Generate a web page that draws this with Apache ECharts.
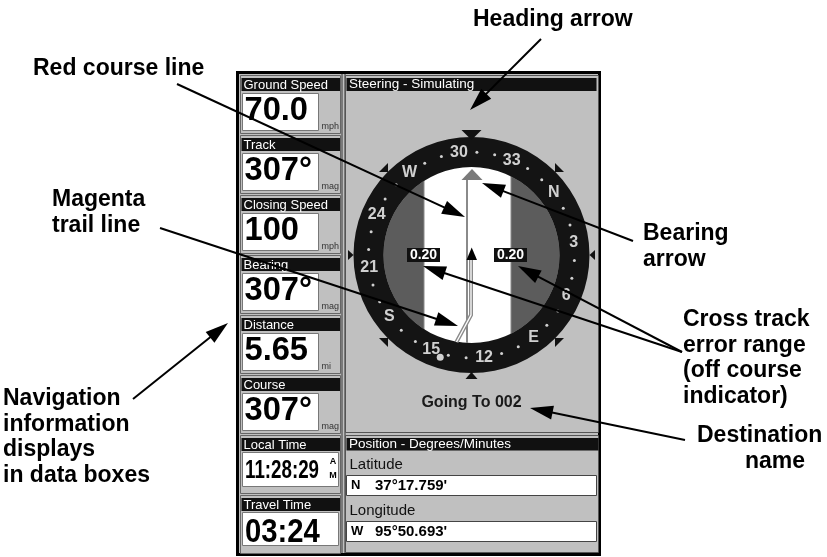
<!DOCTYPE html>
<html><head><meta charset="utf-8">
<script src="https://cdn.jsdelivr.net/npm/echarts@6/dist/echarts.min.js"></script>
<style>html,body{margin:0;padding:0;background:#fff}#c{width:827px;height:557px}</style>
</head><body><div id="c"></div>
<script>
// ---------- data ----------
const heading = 307;
const ringLabels = ['N','3','6','E','12','15','S','21','24','W','30','33'];
const ringLabelBearings = [0,30,60,90,120,150,180,210,240,270,300,330];
const ringDotBearings = [10,20,40,50,70,80,100,110,130,140,160,170,190,200,220,230,250,260,280,290,310,320,340,350];
const waypointBearing = [144];
const xteLabels = ['0.20','0.20'];
const boxTitles = ['Ground Speed','Track','Closing Speed','Bearing','Distance','Course','Local Time','Travel Time'];
const boxValues = ['70.0','307°','100','307°','5.65','307°','11:28:29','03:24'];
const boxUnits = ['mph','mag','mph','mag','mi','mag','AM',''];
const steeringTitle = 'Steering - Simulating';
const destinationText = 'Going To 002';
const positionTitle = 'Position - Degrees/Minutes';
const posLabels = ['Latitude','Longitude'];
const posHemis = ['N','W'];
const posValues = ["37°17.759'","95°50.693'"];
const noteTexts = [
  ['Heading arrow'],
  ['Red course line'],
  ['Magenta','trail line'],
  ['Bearing','arrow'],
  ['Cross track','error range','(off course','indicator)'],
  ['Destination','name'],
  ['Navigation','information','displays','in data boxes']
];

// ---------- layout ----------
const FONT = '"Liberation Sans", Arial, Helvetica, sans-serif';
const CX = 471.5, CY = 255, R_OUT = 118, R_IN = 88, R_LAB = 103;
const G = [];
const NONE = 'rgba(0,0,0,0)';
function rect(x,y,w,h,fill,stroke,lw,z){G.push({type:'rect',silent:true,z:z||0,shape:{x:x,y:y,width:w,height:h},style:{fill:fill||NONE,stroke:stroke||NONE,lineWidth:lw||0}});}
function txt(x,y,t,font,fill,align,z,sx){G.push({type:'text',silent:true,z:z||1,x:x,y:y,scaleX:sx||1,style:{text:t,x:0,y:0,font:font,fill:fill,textAlign:align||'left',textVerticalAlign:'middle'}});}
function poly(pts,fill,z){G.push({type:'polygon',silent:true,z:z||3,shape:{points:pts},style:{fill:fill}});}
function pline(pts,stroke,lw,z){G.push({type:'polyline',silent:true,z:z||3,shape:{points:pts},style:{stroke:stroke,lineWidth:lw,fill:NONE}});}
function arrow(x1,y1,x2,y2){
  const head=23, w=14;
  const dx=x2-x1, dy=y2-y1, L=Math.hypot(dx,dy), ux=dx/L, uy=dy/L;
  const bx=x2-ux*head, by=y2-uy*head;
  G.push({type:'line',silent:true,z:10,shape:{x1:x1,y1:y1,x2:bx+ux*3,y2:by+uy*3},style:{stroke:'#000',lineWidth:2}});
  poly([[x2,y2],[bx-uy*w/2,by+ux*w/2],[bx+uy*w/2,by-ux*w/2]],'#000',10);
}

// device frame
rect(237.5,72.5,362,482,'#c0c0c0','#000',3,0);
G.push({type:'line',silent:true,z:0,shape:{x1:342,y1:74,x2:342,y2:553},style:{stroke:'#333',lineWidth:1}});
G.push({type:'line',silent:true,z:0,shape:{x1:345,y1:74,x2:345,y2:553},style:{stroke:'#333',lineWidth:1}});

// left data boxes
boxTitles.forEach((t,i)=>{
  const h = 78 + 60*i;
  rect(240.5,h-2.5,100,58,NONE,'#666',1,0);
  rect(241.5,h,98.5,13,'#111',null,0,0);
  txt(243.5,h+7,t,'13px '+FONT,'#fff','left',1);
  if(i<6){
    rect(242.5,h+15.5,76,37,'#fff','#777',1,0);
    txt(244.5,h+32.5,boxValues[i],'bold 34px '+FONT,'#000','left',1,0.96);
    txt(321.5,h+49,boxUnits[i],'9px '+FONT,'#333','left',1);
  } else if(i===6){
    rect(242.5,h+14.5,96,34,'#fff','#777',1,0);
    txt(245,h+33,boxValues[i],'bold 25px '+FONT,'#000','left',1,0.75);
    txt(333,h+24,boxUnits[i][0],'bold 9px '+FONT,'#000','center',1);
    txt(333,h+38,boxUnits[i][1],'bold 9px '+FONT,'#000','center',1);
  } else {
    rect(242.5,h+14.5,96,33,'#fff','#777',1,0);
    txt(245,h+34.5,boxValues[i],'bold 34px '+FONT,'#000','left',1,0.86);
  }
});

// steering panel
rect(345.5,75.5,253,357,NONE,'#555',1,0);
rect(346.5,78,250,13,'#111',null,0,0);
txt(349,84.5,steeringTitle,'13.5px '+FONT,'#fff','left',1);

// compass
G.push({type:'circle',silent:true,z:1,shape:{cx:CX,cy:CY,r:R_IN},style:{fill:'#5c5c5c'}});
rect(424,CY-95,87,190,'#fff','#8a8a8a',1,1);
G.push({type:'ring',silent:true,z:2,shape:{cx:CX,cy:CY,r:R_OUT,r0:R_IN},style:{fill:'#141414'}});
// outer markers
poly([[461.5,130],[481.5,130],[471.5,140]],'#111',3);
poly([[465.5,379],[477.5,379],[471.5,372]],'#111',3);
poly([[348,250],[348,260],[353.5,255]],'#111',3);
poly([[595,250],[595,260],[589.5,255]],'#111',3);
poly([[388,163],[388,172],[379,172]],'#111',3);
poly([[555,163],[555,172],[564,172]],'#111',3);
poly([[388,338],[388,347],[379,338]],'#111',3);
poly([[555,338],[555,347],[564,338]],'#111',3);
// course line, bearing marker, trail, boat
pline([[467,180],[467,343]],'#8a8a8a',2,3);
poly([[472,169],[461.5,180],[482.5,180]],'#7a7a7a',3);
pline([[471,260],[471,315],[456.5,342]],'#8a8a8a',4,3);
pline([[471,260],[471,315],[456.5,342]],'#fff',1.3,4);
poly([[471.7,247.5],[466.5,260],[477,260]],'#000',4);
// cross track boxes
[[407,248,33,14],[494,248,33,14]].forEach((b,k)=>{
  rect(b[0],b[1],b[2],b[3],'#111',null,0,4);
  txt(b[0]+b[2]/2,b[1]+b[3]/2+0.5,xteLabels[k],'bold 14px '+FONT,'#fff','center',5);
});
txt(CX,403,destinationText,'bold 16px '+FONT,'#1a1a1a','center',1);

// position panel
rect(345.5,435.5,253,117,NONE,'#555',1,0);
rect(346.5,438,252,12.5,'#111',null,0,0);
txt(349,444.5,positionTitle,'13.5px '+FONT,'#fff','left',1);
posLabels.forEach((l,k)=>{
  const y0 = 465 + 46*k;
  txt(349.5,y0,l,'15px '+FONT,'#111','left',1);
  rect(346.5,y0+10.5,250,20,'#fff','#444',1,0);
  txt(351,y0+20.5,posHemis[k],'bold 13px '+FONT,'#000','left',1);
  txt(375,y0+20.5,posValues[k],'bold 15px '+FONT,'#000','left',1);
});

// annotations
const noteLayout = [
  {x:473,y:20},{x:33,y:69},{x:52,y:200},{x:643,y:234},
  {x:683,y:320},{x:697,y:436},{x:3,y:399}
];
const NFONT = 'bold 23px '+FONT;
noteTexts.forEach((lines,k)=>{
  lines.forEach((ln,j)=>{
    let x = noteLayout[k].x;
    if(k===5 && j===1) x = noteLayout[k].x + 48;
    txt(x,noteLayout[k].y+25.5*j,ln,NFONT,'#000','left',10);
  });
});
arrow(541,39,470,110);
arrow(177,84,465,217);
arrow(160,228,458,326);
arrow(633,241,482,183);
arrow(682,352,423,266);
arrow(682,352,518,266);
arrow(685,440,530,408);
arrow(133,399,228,323);

// ---------- chart ----------
const chart = echarts.init(document.getElementById('c'));
chart.setOption({
  animation:false,
  backgroundColor:'#fff',
  polar:{center:[CX,CY],radius:R_OUT},
  angleAxis:{type:'value',min:0,max:360,startAngle:(90+heading)%360,clockwise:true,show:false},
  radiusAxis:{type:'value',min:0,max:R_OUT,show:false},
  series:[
    {type:'scatter',coordinateSystem:'polar',z:5,silent:true,symbolSize:1,
     itemStyle:{color:NONE},
     label:{show:true,position:'inside',formatter:p=>p.name,color:'#fff',fontSize:16,fontWeight:'bold',fontFamily:FONT},
     data:ringLabels.map((n,i)=>({name:n,value:[R_LAB,ringLabelBearings[i]]}))},
    {type:'scatter',coordinateSystem:'polar',z:5,silent:true,symbolSize:3,
     itemStyle:{color:'#fff'},
     data:ringDotBearings.map(b=>[R_LAB,b])},
    {type:'scatter',coordinateSystem:'polar',z:5,silent:true,symbolSize:7,
     itemStyle:{color:'#fff'},
     data:waypointBearing.map(b=>[107,b])}
  ],
  graphic:{elements:G}
});
</script></body></html>
